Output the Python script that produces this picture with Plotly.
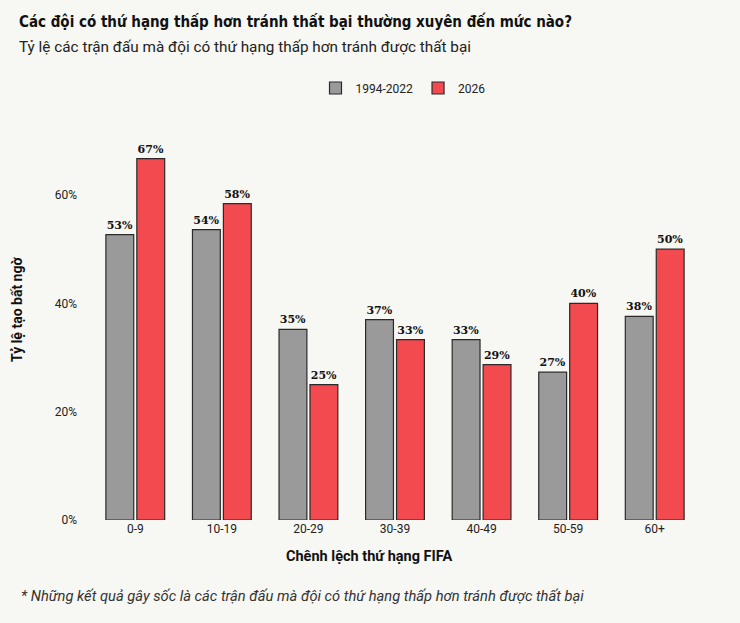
import plotly.graph_objects as go

categories = ["0-9", "10-19", "20-29", "30-39", "40-49", "50-59", "60+"]
hist_values = [52.7, 53.6, 35.2, 37.0, 33.3, 27.3, 37.6]
new_values = [66.7, 58.4, 25.0, 33.3, 28.7, 40.0, 50.0]
series_names = ["1994-2022", "2026"]
y_ticks = [0, 20, 40, 60]
y_tick_labels = ["0%", "20%", "40%", "60%"]

BG = "#f7f7f3"
GRAY = "#9a9a9a"
RED = "#f24a4f"
LABEL_FONT = dict(family="DejaVu Serif", size=11, color="#111111")

L, R, T, B = 92, 42, 130, 103
W, H = 740, 623
PW = W - L - R

fig = go.Figure()
for name, vals, col in [(series_names[0], hist_values, GRAY), (series_names[1], new_values, RED)]:
    fig.add_trace(go.Bar(
        x=categories, y=vals, name=name,
        marker=dict(color=col, line=dict(color="#2a2a2a", width=1.2)),
        text=[f"<b>{round(v)}%</b>" for v in vals],
        textposition="outside", textfont=LABEL_FONT,
        cliponaxis=False, hoverinfo="skip",
    ))

left_x = (17 - L) / PW

fig.update_layout(
    width=W, height=H,
    paper_bgcolor=BG, plot_bgcolor=BG,
    margin=dict(l=L, r=R, t=T, b=B),
    barmode="group", bargap=0.285, bargroupgap=0.1,
    font=dict(family="Roboto", color="#222222"),
    showlegend=True,
    legend=dict(orientation="h", x=(403 - L) / PW, xanchor="center",
                y=(H - 88) / H, yanchor="middle", yref="container",
                font=dict(family="Roboto", size=12, color="#222"),
                bgcolor="rgba(0,0,0,0)"),
    xaxis=dict(showgrid=False, showline=False, zeroline=False, ticks="",
               tickfont=dict(family="Roboto", size=12, color="#222")),
    yaxis=dict(range=[0, 72], showgrid=False, zeroline=False, showline=False,
               tickvals=y_ticks, ticktext=y_tick_labels, ticks="",
               ticklabelstandoff=14,
               tickfont=dict(family="Roboto", size=12, color="#222")),
    annotations=[
        dict(text="<b>Các đội có thứ hạng thấp hơn tránh thất bại thường xuyên đến mức nào?</b>",
             xref="paper", yref="paper", x=left_x, y=1.0, xanchor="left", yanchor="middle",
             yshift=T - 21, showarrow=False,
             font=dict(family="DejaVu Sans Condensed, Roboto Condensed, Liberation Sans Narrow, Roboto",
                       size=15, color="#111")),
        dict(text="Tỷ lệ các trận đấu mà đội có thứ hạng thấp hơn tránh được thất bại",
             xref="paper", yref="paper", x=left_x, y=1.0, xanchor="left", yanchor="middle",
             yshift=T - 47, showarrow=False,
             font=dict(family="Roboto", size=15.3, color="#222")),
        dict(text="<b>Chênh lệch thứ hạng FIFA</b>",
             xref="paper", yref="paper", x=(369 - L) / PW, y=0, xanchor="center", yanchor="middle",
             yshift=-(556 - (H - B)), showarrow=False,
             font=dict(family="Roboto", size=14.5, color="#111")),
        dict(text="<b>Tỷ lệ tạo bất ngờ</b>", textangle=-90,
             xref="paper", yref="paper", x=0, y=0.5, xanchor="center", yanchor="middle",
             xshift=-(L - 17), yshift=15, showarrow=False,
             font=dict(family="Roboto", size=14, color="#111")),
        dict(text="<i>* Những kết quả gây sốc là các trận đấu mà đội có thứ hạng thấp hơn tránh được thất bại</i>",
             xref="paper", yref="paper", x=(19 - L) / PW, y=0, xanchor="left", yanchor="middle",
             yshift=-(596 - (H - B)), showarrow=False,
             font=dict(family="Roboto", size=14.7, color="#333")),
    ],
)

fig.write_html("out.html")
